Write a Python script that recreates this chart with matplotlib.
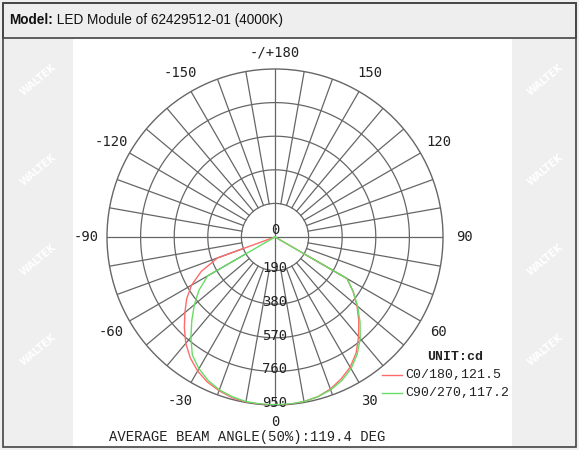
import matplotlib.pyplot as plt
import matplotlib.patches as patches
import numpy as np

# C0/180 (red) and C90/270 (green) intensity curves, cd
angles_c0 = [-90, -70, -65, -60, -55, -50, -45, -40, -35, -30, -25, -20, -15, -10, -5,
             0, 5, 10, 15, 20, 25, 30, 35, 40, 45, 50, 55, 60, 90]
values_c0 = [0, 345, 460, 545, 610, 665, 725, 785, 835, 875, 905, 925, 940, 948, 950,
             950, 950, 945, 935, 915, 885, 850, 800, 735, 670, 605, 540, 470, 0]
angles_c90 = [-90, -60, -55, -50, -45, -40, -35, -30, -25, -20, -15, -10, -5,
              0, 5, 10, 15, 20, 25, 30, 35, 40, 45, 50, 55, 60, 90]
values_c90 = [0, 440, 525, 595, 665, 740, 815, 860, 895, 920, 935, 945, 948,
              948, 948, 945, 935, 920, 895, 860, 810, 750, 680, 610, 540, 470, 0]

ring_values = [190, 380, 570, 760, 950]
angle_ticks = [0, 30, 60, 90, 120, 150, 180, -150, -120, -90, -60, -30]
angle_labels = ['0', '30', '60', '90', '120', '150', '-/+180', '-150', '-120', '-90', '-60', '-30']

title_bold = 'Model:'
title_rest = ' LED Module of 62429512-01 (4000K)'
legend_c0 = 'C0/180,121.5'
legend_c90 = 'C90/270,117.2'
beam_text = 'AVERAGE BEAM ANGLE(50%):119.4 DEG'

fig = plt.figure(figsize=(5.79, 4.5), dpi=100)
fig.patch.set_facecolor('#efefef')

# background axes in pixel-like coordinates
bg = fig.add_axes([0, 0, 1, 1])
bg.set_xlim(0, 579)
bg.set_ylim(450, 0)
bg.axis('off')

# faint watermark in the grey side strips
for wy in range(80, 440, 90):
    for wx in (38, 545):
        bg.text(wx, wy, 'WALTEK', rotation=40, color='white', fontsize=7,
                fontweight='bold', ha='center', va='center', zorder=0)

bg.add_patch(patches.Rectangle((73, 39), 439, 408, facecolor='white', edgecolor='none', zorder=1))
bg.add_patch(patches.Rectangle((3, 3), 573, 35, facecolor='#eeeeee', edgecolor='#444444', lw=1.2, zorder=2))
bg.add_patch(patches.Rectangle((3, 3), 573, 444, facecolor='none', edgecolor='#444444', lw=1.2, zorder=3))
t = bg.text(9, 20, title_bold, fontsize=9.8, fontweight='bold', family='Liberation Sans',
            va='center', ha='left', color='#111111', zorder=4)
fig.canvas.draw()
bb = t.get_window_extent().transformed(bg.transData.inverted())
bg.text(bb.x1, 20, title_rest, fontsize=9.8, family='Liberation Sans',
        va='center', ha='left', color='#111111', zorder=4)

bg.text(247, 437, beam_text, fontsize=10, family='Liberation Mono', ha='center', va='center',
        color='#222222', zorder=4)
bg.text(455, 357, 'UNIT:cd', fontsize=9.5, family='Liberation Mono', fontweight='bold',
        ha='center', va='center', color='#222222', zorder=4)
bg.plot([382, 402], [375, 375], color='#ff6b6b', lw=1, zorder=4)
bg.text(405, 375, legend_c0, fontsize=9.5, family='Liberation Mono', ha='left', va='center',
        color='#222222', zorder=4)
bg.plot([382, 402], [393, 393], color='#66dd66', lw=1, zorder=4)
bg.text(405, 393, legend_c90, fontsize=9.5, family='Liberation Mono', ha='left', va='center',
        color='#222222', zorder=4)

# polar chart
cx, cy, rad = 275, 237, 168
ax = fig.add_axes([(cx - rad) / 579, 1 - (cy + rad) / 450, 2 * rad / 579, 2 * rad / 450],
                  projection='polar')
ax.set_facecolor('none')
ax.set_theta_zero_location('S')
ax.set_theta_direction(1)
ax.set_rlim(0, 950)
ax.set_xticks([])
ax.set_yticks([])
ax.grid(False)
ax.spines['polar'].set_color('#666666')
ax.spines['polar'].set_linewidth(1)

grid_col = '#666666'
th = np.linspace(0, 2 * np.pi, 361)
for v in ring_values[:-1]:
    ax.plot(th, np.full_like(th, v), color=grid_col, lw=0.9)
for a in range(0, 360, 10):
    r0 = 0 if a % 90 == 0 else ring_values[0]
    ax.plot([np.radians(a), np.radians(a)], [r0, 950], color=grid_col, lw=0.9)

for a, lab in zip(angle_ticks, angle_labels):
    r = 1045 if a in (0, 180) else 1070
    ax.text(np.radians(a), r, lab, fontsize=10, family='DejaVu Sans Mono', ha='center',
            va='center', color='#222222')

ax.text(0, 0, '0', fontsize=10, family='DejaVu Sans Mono', ha='center', va='bottom',
        color='#222222')
for v in ring_values:
    ax.text(0, v - 12, str(v), fontsize=10, family='DejaVu Sans Mono', ha='center',
            va='center', color='#222222')

ax.plot(np.radians(angles_c0), values_c0, color='#ff6b6b', lw=1, zorder=5)
ax.plot(np.radians(angles_c90), values_c90, color='#66dd66', lw=1, zorder=5)

fig.savefig('out.png', dpi=100, facecolor=fig.get_facecolor())
